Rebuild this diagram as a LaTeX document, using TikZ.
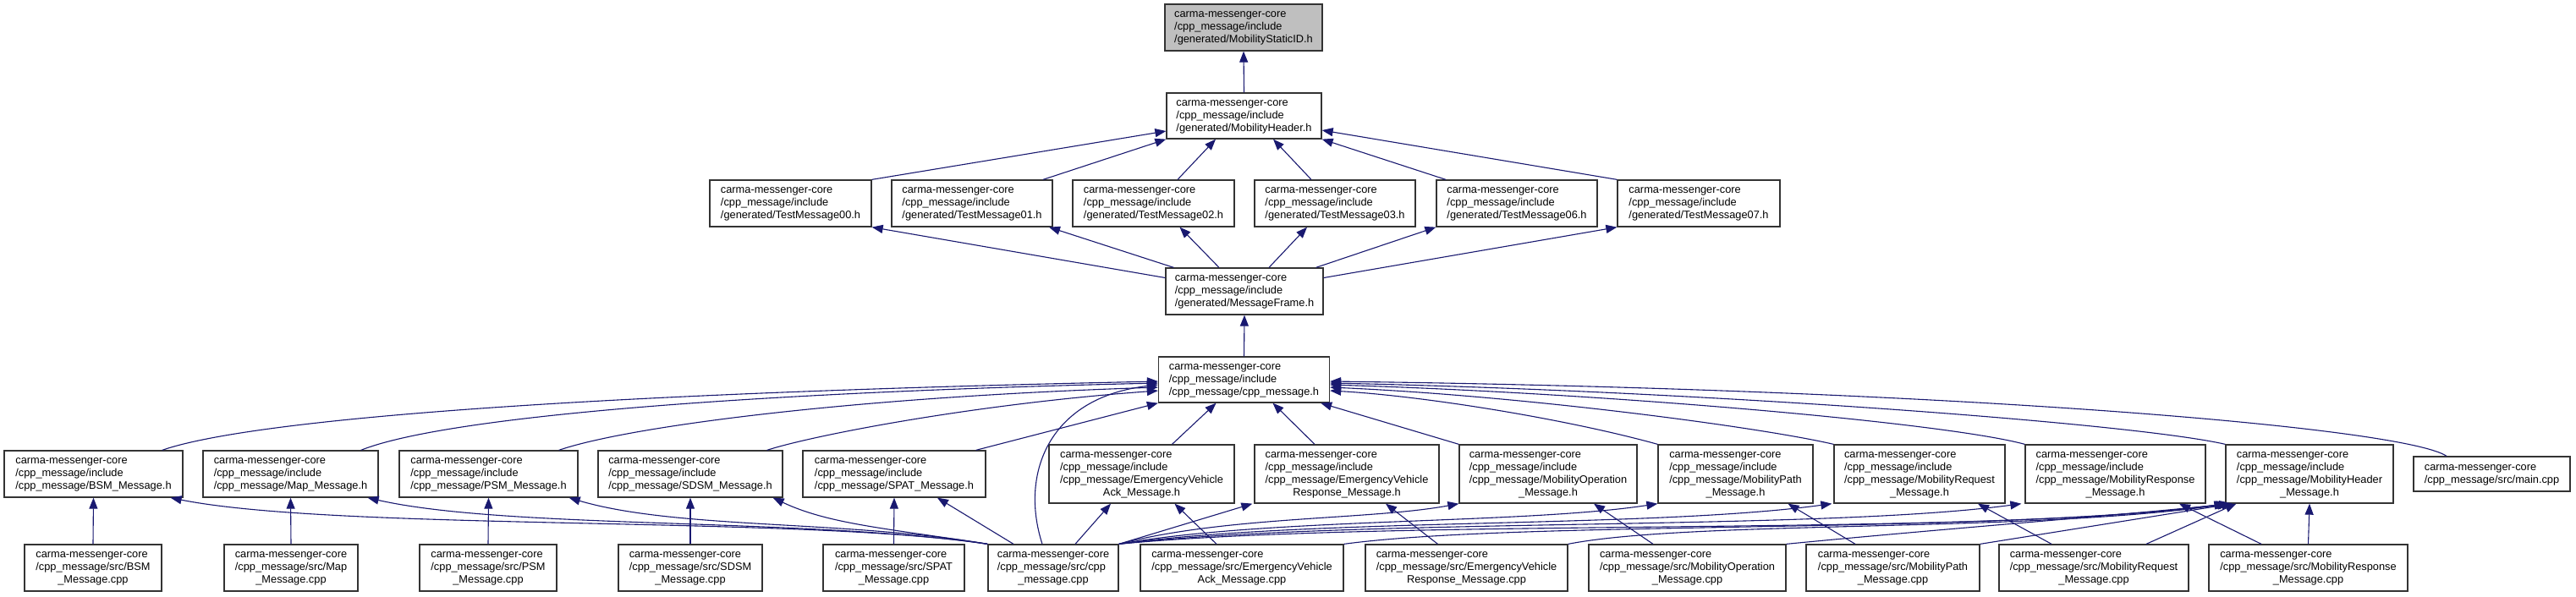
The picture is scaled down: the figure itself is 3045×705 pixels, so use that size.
\documentclass[tikz,border=0pt]{standalone}
\usepackage{fontspec}
\setmainfont{Liberation Sans}
\usetikzlibrary{arrows.meta}
\definecolor{edgec}{HTML}{191970}
\newcommand\lbox[1]{\begin{tabular}{@{}l@{}}#1\end{tabular}}
\newcommand\mcl[1]{\multicolumn{1}{@{}c@{}}{#1}}
\tikzset{
  nbox/.style={draw=black!80, line width=1.3pt, fill=white, inner sep=0pt, font=\fontsize{12.8}{15}\selectfont},
  hb/.style={nbox, minimum height=55pt},
  qb/.style={nbox, minimum height=69pt},
  dep/.style={draw=edgec, line width=1.1pt, -{Triangle[length=13pt,width=10pt]}},
}
\begin{document}
\begin{tikzpicture}[x=1pt,y=-1pt]
\path[use as bounding box, fill=white] (0,0) rectangle (3045,705);
% top
\node[hb, minimum width=186pt, fill=black!25] (msid) at (1470,32.5) {\lbox{carma-messenger-core\\/cpp\_message/include\\/generated/MobilityStaticID.h}};
\node[hb, minimum width=183pt, minimum height=54pt] (mh) at (1470.5,137) {\lbox{carma-messenger-core\\/cpp\_message/include\\/generated/MobilityHeader.h}};
% test messages
\node[hb, minimum width=191pt] (tm00) at (934.5,240.5) {\lbox{carma-messenger-core\\/cpp\_message/include\\/generated/TestMessage00.h}};
\node[hb, minimum width=190pt] (tm01) at (1149,240.5) {\lbox{carma-messenger-core\\/cpp\_message/include\\/generated/TestMessage01.h}};
\node[hb, minimum width=191pt] (tm02) at (1363.5,240.5) {\lbox{carma-messenger-core\\/cpp\_message/include\\/generated/TestMessage02.h}};
\node[hb, minimum width=190pt] (tm03) at (1578,240.5) {\lbox{carma-messenger-core\\/cpp\_message/include\\/generated/TestMessage03.h}};
\node[hb, minimum width=190pt] (tm06) at (1793,240.5) {\lbox{carma-messenger-core\\/cpp\_message/include\\/generated/TestMessage06.h}};
\node[hb, minimum width=192pt] (tm07) at (2008,240.5) {\lbox{carma-messenger-core\\/cpp\_message/include\\/generated/TestMessage07.h}};
\node[hb, minimum width=186pt] (mf) at (1471,344.5) {\lbox{carma-messenger-core\\/cpp\_message/include\\/generated/MessageFrame.h}};
\node[hb, minimum width=202pt, minimum height=54pt] (cm) at (1470.5,449) {\lbox{carma-messenger-core\\/cpp\_message/include\\/cpp\_message/cpp\_message.h}};
% headers row
\node[hb, minimum width=211pt] (bsmh) at (110.5,560.5) {\lbox{carma-messenger-core\\/cpp\_message/include\\/cpp\_message/BSM\_Message.h}};
\node[hb, minimum width=207pt] (maph) at (343.5,560.5) {\lbox{carma-messenger-core\\/cpp\_message/include\\/cpp\_message/Map\_Message.h}};
\node[hb, minimum width=211pt] (psmh) at (577.5,560.5) {\lbox{carma-messenger-core\\/cpp\_message/include\\/cpp\_message/PSM\_Message.h}};
\node[hb, minimum width=218pt] (sdsmh) at (816,560.5) {\lbox{carma-messenger-core\\/cpp\_message/include\\/cpp\_message/SDSM\_Message.h}};
\node[hb, minimum width=216pt] (spath) at (1057,560.5) {\lbox{carma-messenger-core\\/cpp\_message/include\\/cpp\_message/SPAT\_Message.h}};
\node[qb, minimum width=219pt] (evackh) at (1349.5,560.5) {\lbox{carma-messenger-core\\/cpp\_message/include\\/cpp\_message/EmergencyVehicle\\\mcl{Ack\_Message.h}}};
\node[qb, minimum width=218pt] (evresph) at (1592,560.5) {\lbox{carma-messenger-core\\/cpp\_message/include\\/cpp\_message/EmergencyVehicle\\\mcl{Response\_Message.h}}};
\node[qb, minimum width=210pt] (mobop) at (1830,560.5) {\lbox{carma-messenger-core\\/cpp\_message/include\\/cpp\_message/MobilityOperation\\\mcl{\_Message.h}}};
\node[qb, minimum width=183pt] (mobpath) at (2051.5,560.5) {\lbox{carma-messenger-core\\/cpp\_message/include\\/cpp\_message/MobilityPath\\\mcl{\_Message.h}}};
\node[qb, minimum width=202pt] (mobreq) at (2269,560.5) {\lbox{carma-messenger-core\\/cpp\_message/include\\/cpp\_message/MobilityRequest\\\mcl{\_Message.h}}};
\node[qb, minimum width=213pt] (mobresp) at (2500.5,560.5) {\lbox{carma-messenger-core\\/cpp\_message/include\\/cpp\_message/MobilityResponse\\\mcl{\_Message.h}}};
\node[qb, minimum width=198pt] (mobhdr) at (2730,560.5) {\lbox{carma-messenger-core\\/cpp\_message/include\\/cpp\_message/MobilityHeader\\\mcl{\_Message.h}}};
\node[nbox, minimum width=185pt, minimum height=41pt] (mainc) at (2945.5,560.5) {\lbox{carma-messenger-core\\/cpp\_message/src/main.cpp}};
% sources row
\node[hb, minimum width=162pt] (bsmc) at (110,671.5) {\lbox{carma-messenger-core\\/cpp\_message/src/BSM\\\mcl{\_Message.cpp}}};
\node[hb, minimum width=158pt] (mapc) at (344,671.5) {\lbox{carma-messenger-core\\/cpp\_message/src/Map\\\mcl{\_Message.cpp}}};
\node[hb, minimum width=162pt] (psmc) at (577,671.5) {\lbox{carma-messenger-core\\/cpp\_message/src/PSM\\\mcl{\_Message.cpp}}};
\node[hb, minimum width=170pt] (sdsmc) at (816,671.5) {\lbox{carma-messenger-core\\/cpp\_message/src/SDSM\\\mcl{\_Message.cpp}}};
\node[hb, minimum width=167pt] (spatc) at (1056.5,671.5) {\lbox{carma-messenger-core\\/cpp\_message/src/SPAT\\\mcl{\_Message.cpp}}};
\node[hb, minimum width=154pt] (cmc) at (1245,671.5) {\lbox{carma-messenger-core\\/cpp\_message/src/cpp\\\mcl{\_message.cpp}}};
\node[hb, minimum width=240pt] (evackc) at (1468,671.5) {\lbox{carma-messenger-core\\/cpp\_message/src/EmergencyVehicle\\\mcl{Ack\_Message.cpp}}};
\node[hb, minimum width=239pt] (evrespc) at (1733.5,671.5) {\lbox{carma-messenger-core\\/cpp\_message/src/EmergencyVehicle\\\mcl{Response\_Message.cpp}}};
\node[hb, minimum width=233pt] (mobopc) at (1994.5,671.5) {\lbox{carma-messenger-core\\/cpp\_message/src/MobilityOperation\\\mcl{\_Message.cpp}}};
\node[hb, minimum width=205pt] (mobpathc) at (2237.5,671.5) {\lbox{carma-messenger-core\\/cpp\_message/src/MobilityPath\\\mcl{\_Message.cpp}}};
\node[hb, minimum width=224pt] (mobreqc) at (2475,671.5) {\lbox{carma-messenger-core\\/cpp\_message/src/MobilityRequest\\\mcl{\_Message.cpp}}};
\node[hb, minimum width=235pt] (mobrespc) at (2728.5,671.5) {\lbox{carma-messenger-core\\/cpp\_message/src/MobilityResponse\\\mcl{\_Message.cpp}}};

% ---- edges ----
\draw[dep] (mh.north) -- (msid.south);
\draw[dep] (tm00.north east) -- ([yshift=-18pt]mh.west);
\draw[dep] ([xshift=84pt]tm01.north) -- (mh.south west);
\draw[dep] ([xshift=28.5pt]tm02.north) -- ([xshift=-33.5pt]mh.south);
\draw[dep] ([xshift=-28pt]tm03.north) -- ([xshift=34.5pt]mh.south);
\draw[dep] ([xshift=-84pt]tm06.north) -- (mh.south east);
\draw[dep] (tm07.north west) -- ([yshift=-17pt]mh.east);
\draw[dep] ([yshift=16pt]mf.west) -- (tm00.south east);
\draw[dep] ([xshift=10pt]mf.north west) -- ([xshift=91pt]tm01.south);
\draw[dep] ([xshift=-30pt]mf.north) -- ([xshift=31pt]tm02.south);
\draw[dep] ([xshift=29pt]mf.north) -- ([xshift=-33pt]tm03.south);
\draw[dep] ([xshift=-9pt]mf.north east) -- (tm06.south west);
\draw[dep] ([yshift=16pt]mf.east) -- (tm07.south west);
\draw[dep] (cm.north) -- (mf.south);
% headers -> cpp_message.h
\draw[dep] ([xshift=-25pt]bsmh.north east) .. controls (300,495) and (700,465) .. ([yshift=-2pt]cm.west);
\draw[dep] ([xshift=-21pt]maph.north east) .. controls (520,495) and (850,465) .. ([yshift=-4pt]cm.west);
\draw[dep] ([xshift=-23pt]psmh.north east) .. controls (740,505) and (1000,470) .. ([yshift=-9pt]cm.west);
\draw[dep] ([xshift=-19pt]sdsmh.north east) .. controls (960,515) and (1150,478) .. ([yshift=-13pt]cm.west);
\draw[dep] ([xshift=-12pt]spath.north east) -- (cm.south west);
\draw[dep] ([xshift=36pt]evackh.north) -- ([xshift=-33pt]cm.south);
\draw[dep] ([xshift=-38pt]evresph.north) -- ([xshift=34pt]cm.south);
\draw[dep] (mobop.north west) -- ([xshift=-11pt]cm.south east);
\draw[dep] (mobpath.north west) .. controls (1850,495) and (1680,468) .. ([yshift=-13pt]cm.east);
\draw[dep] (mobreq.north west) .. controls (2080,505) and (1800,468) .. ([yshift=-9pt]cm.east);
\draw[dep] (mobresp.north west) .. controls (2300,500) and (1900,465) .. ([yshift=-6pt]cm.east);
\draw[dep] (mobhdr.north west) .. controls (2520,500) and (2000,462) .. ([yshift=-4pt]cm.east);
\draw[dep] ([xshift=-53.5pt]mainc.north) .. controls (2840,505) and (2300,460) .. ([yshift=-2pt]cm.east);
\draw[dep] ([xshift=-13pt]cmc.north) .. controls (1205,560) and (1240,470) .. ([yshift=-6pt]cm.west);
% sources -> own header
\draw[dep] (bsmc.north) -- (bsmh.south);
\draw[dep] (mapc.north) -- (maph.south);
\draw[dep] (psmc.north) -- (psmh.south);
\draw[dep] (sdsmc.north) -- (sdsmh.south);
\draw[dep] (spatc.north) -- (spath.south);
\draw[dep] ([xshift=-30pt]evackc.north) -- ([xshift=39pt]evackh.south);
\draw[dep] ([xshift=-34pt]evrespc.north) -- ([xshift=46pt]evresph.south);
\draw[dep] ([xshift=-40.5pt]mobopc.north) -- ([xshift=54pt]mobop.south);
\draw[dep] ([xshift=-44.5pt]mobpathc.north) -- ([xshift=62pt]mobpath.south);
\draw[dep] ([xshift=-50pt]mobreqc.north) -- ([xshift=69pt]mobreq.south);
\draw[dep] ([xshift=-55.5pt]mobrespc.north) -- ([xshift=75.5pt]mobresp.south);
% cpp_message.cpp -> headers
\draw[dep] (cmc.north west) .. controls (950,610) and (400,628) .. ([xshift=-15pt]bsmh.south east);
\draw[dep] (cmc.north west) .. controls (950,612) and (600,626) .. ([xshift=-13pt]maph.south east);
\draw[dep] (cmc.north west) .. controls (1000,615) and (800,626) .. ([xshift=-11pt]psmh.south east);
\draw[dep] (cmc.north west) .. controls (1050,625) and (980,620) .. ([xshift=-12pt]sdsmh.south east);
\draw[dep] ([xshift=-47pt]cmc.north) -- ([xshift=51pt]spath.south);
\draw[dep] ([xshift=26pt]cmc.north) -- ([xshift=-36.5pt]evackh.south);
\draw[dep] (cmc.north east) -- ([xshift=-2pt]evresph.south west);
\draw[dep] (cmc.north east) .. controls (1450,610) and (1620,615) .. (mobop.south west);
\draw[dep] (cmc.north east) .. controls (1500,612) and (1800,620) .. (mobpath.south west);
\draw[dep] (cmc.north east) .. controls (1550,612) and (1950,625) .. ([xshift=-2pt]mobreq.south west);
\draw[dep] (cmc.north east) .. controls (1600,612) and (2150,628) .. ([xshift=-4pt]mobresp.south west);
\draw[dep] (cmc.north east) .. controls (1650,612) and (2350,635) .. (mobhdr.south west);
% -> MobilityHeader_Message.h
\draw[dep] (evackc.north east) .. controls (1800,615) and (2350,632) .. ([xshift=2pt]mobhdr.south west);
\draw[dep] (evrespc.north east) .. controls (2000,615) and (2400,630) .. ([xshift=4pt]mobhdr.south west);
\draw[dep] (mobopc.north east) .. controls (2300,625) and (2500,610) .. ([xshift=6pt]mobhdr.south west);
\draw[dep] (mobpathc.north east) -- ([xshift=9pt]mobhdr.south west);
\draw[dep] ([xshift=62pt]mobreqc.north) -- ([xshift=13pt]mobhdr.south west);
\draw[dep] (mobrespc.north) -- (mobhdr.south);
\end{tikzpicture}
\end{document}
